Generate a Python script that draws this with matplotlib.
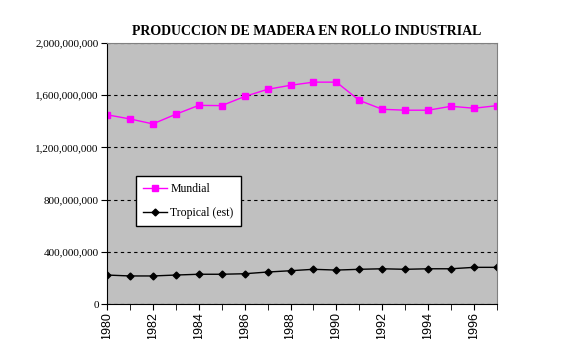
import numpy as np
import matplotlib.pyplot as plt
from matplotlib.ticker import FuncFormatter, MultipleLocator

# Data
years = list(range(1980, 1998))
mundial = [1.450e9, 1.418e9, 1.380e9, 1.454e9, 1.522e9, 1.520e9, 1.590e9, 1.645e9, 1.676e9,
           1.700e9, 1.700e9, 1.560e9, 1.492e9, 1.485e9, 1.485e9, 1.515e9, 1.500e9, 1.520e9]
tropical = [222e6, 215e6, 215e6, 222e6, 228e6, 228e6, 232e6, 245e6, 255e6,
            266e6, 260e6, 266e6, 270e6, 266e6, 270e6, 270e6, 281e6, 281e6]

plt.rcParams['font.family'] = ['Liberation Serif', 'DejaVu Serif']

fig = plt.figure(figsize=(5.62, 3.39), dpi=100)
ax = fig.add_axes([0.1904, 0.1032, 0.6939, 0.770])
ax.set_facecolor('#C0C0C0')

ax.plot(years, mundial, color='#FF00FF', marker='s', markersize=4.5, linewidth=1,
        label='Mundial')
ax.plot(years, tropical, color='black', marker='D', markersize=3.5, linewidth=1,
        label='Tropical (est)')

ax.set_xlim(1980, 1997)
ax.set_ylim(0, 2e9)
ax.yaxis.set_major_locator(MultipleLocator(4e8))
ax.yaxis.set_major_formatter(FuncFormatter(lambda v, p: f'{int(v):,}'))
ax.xaxis.set_major_locator(MultipleLocator(2))
ax.xaxis.set_minor_locator(MultipleLocator(1))
ax.tick_params(axis='x', which='both', direction='out', length=4, labelrotation=90, pad=2)
ax.tick_params(axis='y', direction='out', length=4, labelsize=8, pad=2)
for lab in ax.get_xticklabels():
    lab.set_family(['Liberation Sans', 'DejaVu Sans'])
    lab.set_fontsize(9)
ax.grid(axis='y', color='black', linestyle=(0, (3, 3)), linewidth=0.8)
ax.set_axisbelow(True)

for s in ['top', 'right']:
    ax.spines[s].set_color('#808080')
ax.spines['left'].set_color('black')
ax.spines['bottom'].set_color('black')

ax.set_title('PRODUCCION DE MADERA EN ROLLO INDUSTRIAL', fontsize=10, fontweight='bold',
             pad=6, x=0.513)

leg = ax.legend(loc='lower left', bbox_to_anchor=(0.0744, 0.299), fontsize=8.5,
                fancybox=False, framealpha=1, edgecolor='black', borderpad=0.6,
                labelspacing=1.0, handlelength=2, handletextpad=0.3, borderaxespad=0)
leg.get_frame().set_linewidth(1)

fig.savefig('out.png', dpi=100)
